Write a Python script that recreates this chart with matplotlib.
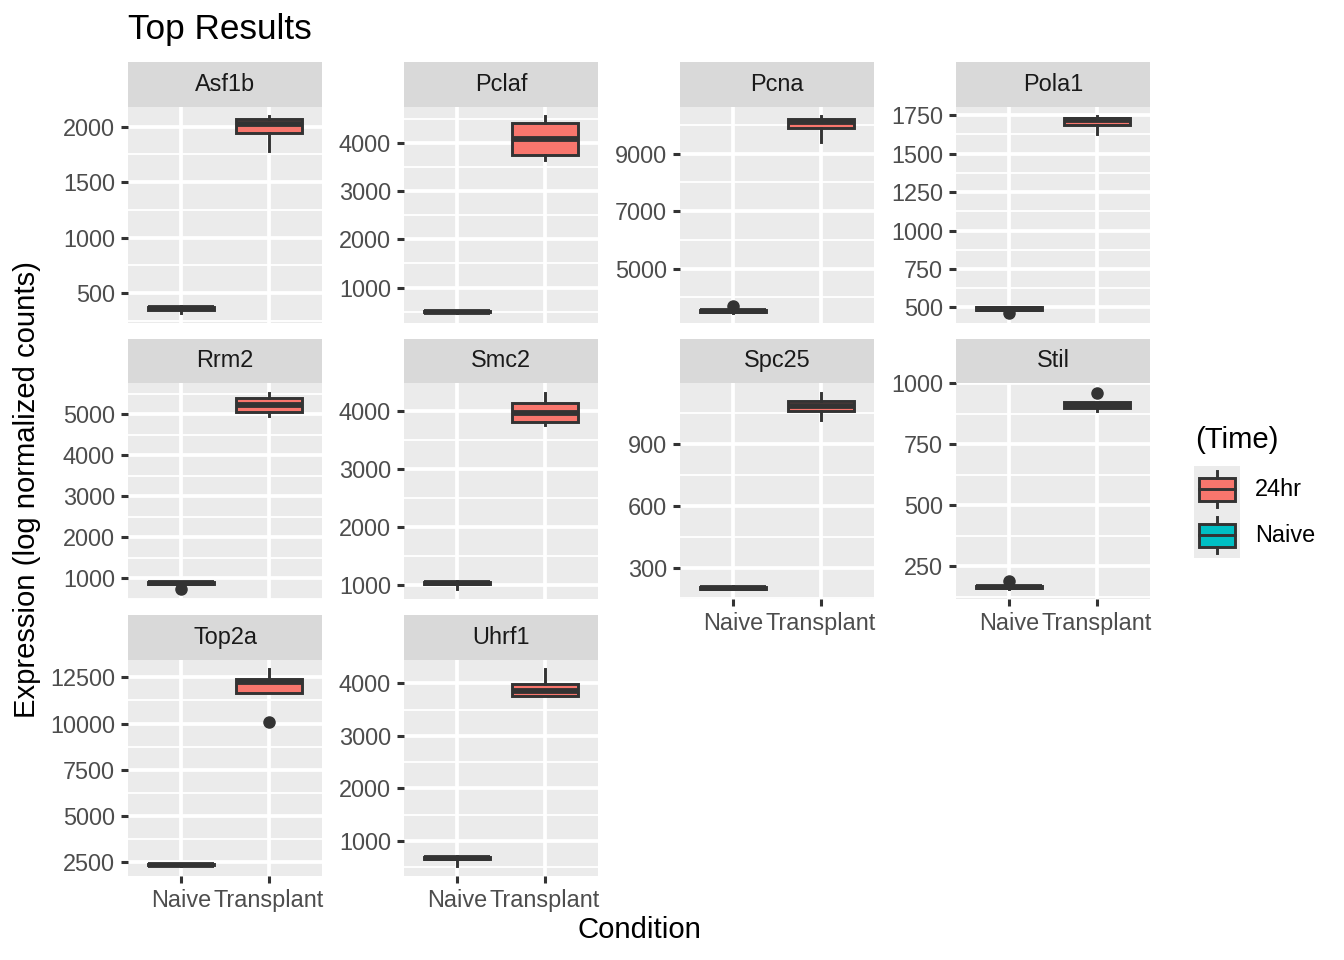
import matplotlib
matplotlib.use("Agg")
import matplotlib.pyplot as plt
from matplotlib.patches import Rectangle
from matplotlib.ticker import FixedLocator, FixedFormatter

plt.rcParams['font.family'] = ['Liberation Sans', 'DejaVu Sans']

# box statistics, one entry per gene
genes = ["Asf1b", "Pclaf", "Pcna", "Pola1", "Rrm2",
         "Smc2", "Spc25", "Stil", "Top2a", "Uhrf1"]

naive_lo  = [322, 480, 3470, 482, 845, 931, 195, 157, 2320, 530]
naive_q1  = [345, 485, 3490, 486, 855, 1020, 197, 160, 2340, 650]
naive_med = [360, 500, 3522, 493, 878, 1040, 202, 165, 2377, 677]
naive_q3  = [375, 515, 3555, 500, 905, 1060, 207, 170, 2410, 700]
naive_hi  = [382, 520, 3570, 503, 915, 1075, 209, 172, 2430, 710]
naive_out = [[], [], [3700], [466], [732], [], [], [190], [], []]

tx_lo  = [1778, 3646, 9407, 1625, 4959, 3759, 1014, 887, 11650, 3750]
tx_q1  = [1941, 3746, 9887, 1688, 5054, 3814, 1060, 898, 11667, 3757]
tx_med = [2025, 4077, 10097, 1721, 5237, 3966, 1084, 910, 12231, 3852]
tx_q3  = [2070, 4406, 10190, 1734, 5410, 4152, 1107, 922, 12382, 3996]
tx_hi  = [2094, 4548, 10297, 1742, 5529, 4322, 1147, 922, 12930, 4266]
tx_out = [[], [], [], [], [], [], [], [960], [10097], []]

y_ticks = [
    [500, 1000, 1500, 2000],
    [1000, 2000, 3000, 4000],
    [5000, 7000, 9000],
    [500, 750, 1000, 1250, 1500, 1750],
    [1000, 2000, 3000, 4000, 5000],
    [1000, 2000, 3000, 4000],
    [300, 600, 900],
    [250, 500, 750, 1000],
    [2500, 5000, 7500, 10000, 12500],
    [1000, 2000, 3000, 4000],
]

conditions = ["Naive", "Transplant"]
time_labels = ["24hr", "Naive"]
time_colors = {"24hr": "#F8766D", "Naive": "#00BFC4"}

W, H = 1344, 960
fig = plt.figure(figsize=(W / 100, H / 100), dpi=100)


def rect(left, top, w, h):
    return [left / W, 1 - (top + h) / H, w / W, h / H]


col_left = [128, 404, 680, 956]
row_top = [62, 338.5, 615]
panel_w = 194
strip_h = 44.5
panel_h = 216
bottom_panels = [6, 7, 8, 9]

lw = 2.73      # grid lines
blw = 2.1      # box outlines
edge = "#333333"

for i, gene in enumerate(genes):
    r, c = i // 4, i % 4
    ax = fig.add_axes(rect(col_left[c], row_top[r] + strip_h, panel_w, panel_h))
    sax = fig.add_axes(rect(col_left[c], row_top[r], panel_w, strip_h))
    sax.set_facecolor("#D9D9D9")
    sax.set_xticks([])
    sax.set_yticks([])
    for s in sax.spines.values():
        s.set_visible(False)
    sax.text(0.5, 0.5, gene, ha="center", va="center", fontsize=16.9,
             color="#1A1A1A", transform=sax.transAxes)

    stats = [
        dict(med=naive_med[i], q1=naive_q1[i], q3=naive_q3[i],
             whislo=naive_lo[i], whishi=naive_hi[i], fliers=naive_out[i]),
        dict(med=tx_med[i], q1=tx_q1[i], q3=tx_q3[i],
             whislo=tx_lo[i], whishi=tx_hi[i], fliers=tx_out[i]),
    ]
    bp = ax.bxp(stats, positions=[1, 2], widths=0.75, patch_artist=True,
                showcaps=False,
                boxprops=dict(edgecolor=edge, linewidth=blw),
                whiskerprops=dict(color=edge, linewidth=blw),
                medianprops=dict(color=edge, linewidth=blw * 2,
                                 solid_capstyle="butt"),
                flierprops=dict(marker="o", markerfacecolor=edge,
                                markeredgecolor=edge, markersize=8,
                                linestyle="none"))
    bp["boxes"][0].set_facecolor(time_colors["Naive"])
    bp["boxes"][1].set_facecolor(time_colors["24hr"])

    vals = [naive_lo[i], tx_hi[i]] + naive_out[i] + tx_out[i]
    lo, hi = min(vals), max(vals)
    pad = 0.05 * (hi - lo)
    ax.set_ylim(lo - pad, hi + pad)
    ax.set_xlim(0.4, 2.6)

    ticks = y_ticks[i]
    step = ticks[1] - ticks[0]
    minors = [ticks[0] - step / 2] + [t + step / 2 for t in ticks]
    ax.yaxis.set_major_locator(FixedLocator(ticks))
    ax.yaxis.set_major_formatter(FixedFormatter([str(t) for t in ticks]))
    ax.yaxis.set_minor_locator(FixedLocator(minors))
    ax.set_xticks([1, 2])
    ax.set_xticklabels(conditions)

    ax.set_facecolor("#EBEBEB")
    ax.set_axisbelow(True)
    ax.grid(which="major", color="white", linewidth=lw)
    ax.grid(which="minor", axis="y", color="white", linewidth=lw / 2)
    for s in ax.spines.values():
        s.set_visible(False)

    ax.tick_params(axis="y", which="major", length=5.3, width=2.2,
                   color=edge, labelsize=16.9, labelcolor="#4D4D4D", pad=4.2)
    ax.tick_params(axis="y", which="minor", length=0)
    if i in bottom_panels:
        ax.tick_params(axis="x", length=5.3, width=2.2, color=edge,
                       labelsize=16.9, labelcolor="#4D4D4D", pad=4.2)
    else:
        ax.tick_params(axis="x", length=0, labelbottom=False)

# legend
lax = fig.add_axes(rect(1194, 466, 46, 92))
lax.set_facecolor("#EBEBEB")
lax.set_xlim(0, 1)
lax.set_ylim(2, 0)
lax.set_xticks([])
lax.set_yticks([])
for s in lax.spines.values():
    s.set_visible(False)
for k, lab in enumerate(time_labels):
    lax.add_patch(Rectangle((0.11, k + 0.25), 0.78, 0.5,
                            facecolor=time_colors[lab], edgecolor=edge,
                            linewidth=blw))
    lax.plot([0.11, 0.89], [k + 0.5, k + 0.5], color=edge, linewidth=blw)
    lax.plot([0.5, 0.5], [k + 0.1, k + 0.25], color=edge, linewidth=blw)
    lax.plot([0.5, 0.5], [k + 0.75, k + 0.9], color=edge, linewidth=blw)
    fig.text(1255 / W, 1 - (489 + 46 * k) / H, lab, fontsize=16.9,
             ha="left", va="center", color="black")
fig.text(1195 / W, 1 - 440 / H, "(Time)", fontsize=21.1, ha="left",
         va="center", color="black")

# titles
fig.text(128 / W, 1 - 29 / H, "Top Results", fontsize=25.3, ha="left",
         va="center", color="black")
fig.text(639 / W, 1 - 930 / H, "Condition", fontsize=21.1, ha="center",
         va="center", color="black")
fig.text(27 / W, 1 - 490 / H, "Expression (log normalized counts)",
         fontsize=21.1, rotation=90, ha="center", va="center", color="black")

fig.savefig("out.png", dpi=100)
